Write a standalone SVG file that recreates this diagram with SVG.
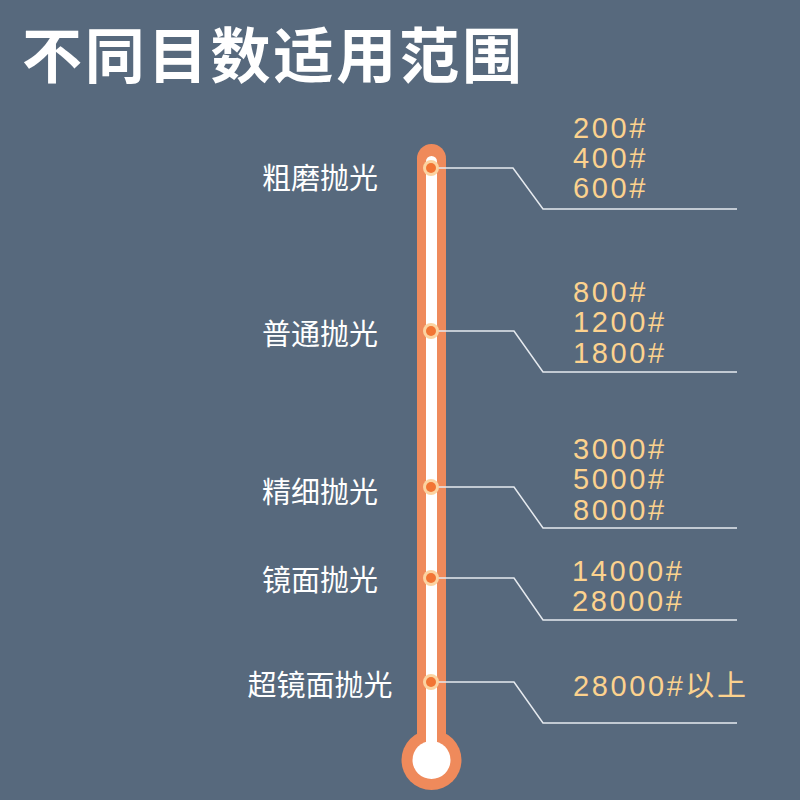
<svg xmlns="http://www.w3.org/2000/svg" width="800" height="800" viewBox="0 0 800 800">
<defs>
<style>
.title{font-family:"Noto Sans CJK SC","Noto Sans",sans-serif;font-weight:bold;font-size:60px;fill:#ffffff}
.lbl{font-family:"Noto Sans CJK SC","Noto Sans",sans-serif;font-size:29px;fill:#ffffff;text-anchor:middle;dominant-baseline:central}
.num{font-family:"Liberation Sans","Noto Sans CJK SC",sans-serif;font-size:29px;fill:#fcd28e;letter-spacing:2.6px}
.conn{fill:none;stroke:#e6eaef;stroke-width:1.5}
.ring{fill:#fcd3a0}
.dot{fill:#f27534}
</style>
</defs>
<rect width="800" height="800" fill="#57697d"/>
<text class="title" x="22" y="78" textLength="500">不同目数适用范围</text>
<g id="thermometer">
<rect x="417" y="144" width="29" height="620" rx="14.5" fill="#ef8a5b"/>
<circle cx="431.5" cy="760" r="30" fill="#ef8a5b"/>
<rect x="426" y="156" width="11" height="600" rx="5.5" fill="#ffffff"/>
<circle cx="431.5" cy="760" r="19" fill="#ffffff"/>
</g>
<g id="connectors">
<polyline class="conn" points="438,168 513,168 543,209 737,209"/>
<polyline class="conn" points="438,331 514,331 543,372 737,372"/>
<polyline class="conn" points="438,487 514,487 543,528 737,528"/>
<polyline class="conn" points="438,578 514,578 543,620 737,620"/>
<polyline class="conn" points="438,682 514,682 543,723 737,723"/>
</g>
<g id="n1">
<circle class="ring" cx="431" cy="168" r="8"/><circle class="dot" cx="431" cy="168" r="5"/>
<text class="lbl" x="320" y="176">粗磨抛光</text>
<text class="num" x="573" y="138">200#</text>
<text class="num" x="573" y="168">400#</text>
<text class="num" x="573" y="198">600#</text>
</g>
<g id="n2">
<circle class="ring" cx="431" cy="331" r="8"/><circle class="dot" cx="431" cy="331" r="5"/>
<text class="lbl" x="320" y="332">普通抛光</text>
<text class="num" x="573" y="302">800#</text>
<text class="num" x="573" y="332">1200#</text>
<text class="num" x="573" y="363">1800#</text>
</g>
<g id="n3">
<circle class="ring" cx="431" cy="487" r="8"/><circle class="dot" cx="431" cy="487" r="5"/>
<text class="lbl" x="320" y="490">精细抛光</text>
<text class="num" x="573" y="459">3000#</text>
<text class="num" x="573" y="489">5000#</text>
<text class="num" x="573" y="520">8000#</text>
</g>
<g id="n4">
<circle class="ring" cx="431" cy="578" r="8"/><circle class="dot" cx="431" cy="578" r="5"/>
<text class="lbl" x="320" y="578">镜面抛光</text>
<text class="num" x="572" y="581">14000#</text>
<text class="num" x="572" y="611">28000#</text>
</g>
<g id="n5">
<circle class="ring" cx="431" cy="682" r="8"/><circle class="dot" cx="431" cy="682" r="5"/>
<text class="lbl" x="320" y="683">超镜面抛光</text>
<text class="num" x="573" y="696">28000#以上</text>
</g>
</svg>
